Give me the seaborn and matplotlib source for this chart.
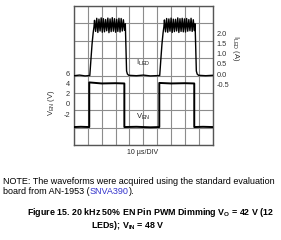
import matplotlib
matplotlib.use("Agg")
import matplotlib.pyplot as plt
import seaborn as sns
import pandas as pd

# ---------------- data ----------------
# V_EN trace: time (us) and level (V, as drawn against the left scale)
ven_time = [0, 5, 11.0, 11.0, 20, 30, 36.3, 36.3, 45, 55, 61.5, 61.5, 70, 80, 86.7, 86.7, 93, 100]
ven_volt = [-4.5, -4.45, -4.5, 4.2, 4.0, 4.05, 4.0, -4.5, -4.45, -4.55, -4.5, 4.1, 4.0, 4.05, 4.0, -4.5, -4.45, -4.5]

# I_LED trace: time (us) and current (A, against the right scale)
iled_time = [0, 4, 8, 11.4, 12.2, 13.0, 13.8, 14.4,
             14.8, 15.6, 16.4, 17.2, 18.0, 18.8, 19.6, 20.4, 21.2, 22.0, 22.8, 23.6,
             24.4, 25.2, 26.0, 26.8, 27.6, 28.4, 29.2, 30.0, 30.8, 31.6, 32.4, 33.2,
             34.0, 34.8, 35.6, 36.4, 37.0, 37.9, 38.5, 39.5,
             45, 50, 55, 61.8, 62.6, 63.4, 64.2, 64.8,
             65.2, 66.0, 66.8, 67.6, 68.4, 69.2, 70.0, 70.8, 71.6, 72.4, 73.2, 74.0,
             74.8, 75.6, 76.4, 77.2, 78.0, 78.8, 79.6, 80.4, 81.2, 82.0, 82.8, 83.6,
             84.4, 85.2, 86.0, 86.8, 87.3, 88.2, 88.8, 89.8, 95, 100]
iled_amp = [-0.08, -0.05, -0.09, -0.07, 0.7, 1.45, 2.0, 2.3,
            2.62, 2.08, 2.72, 2.03, 2.68, 2.10, 2.74, 2.04, 2.70, 2.06, 2.66, 2.11,
            2.73, 2.02, 2.69, 2.07, 2.75, 2.09, 2.70, 2.04, 2.67, 2.08, 2.72, 2.05,
            2.71, 2.10, 2.65, 2.13, 2.45, 0.15, 0.0, -0.06,
            -0.08, -0.05, -0.09, -0.07, 0.7, 1.45, 2.0, 2.3,
            2.64, 2.06, 2.71, 2.04, 2.69, 2.09, 2.73, 2.03, 2.68, 2.07, 2.67, 2.10,
            2.74, 2.03, 2.70, 2.08, 2.72, 2.06, 2.69, 2.05, 2.71, 2.09, 2.66, 2.11,
            2.72, 2.08, 2.65, 2.12, 2.45, 0.15, 0.0, -0.06, -0.08, -0.06]

ven_ticks = [6, 4, 2, 0, -2]
iled_ticks = [2.0, 1.5, 1.0, 0.5, 0.0, -0.5]

# ---------------- style ----------------
sns.set_style("white")
plt.rcParams['font.family'] = ['Liberation Sans', 'DejaVu Sans']
plt.rcParams['mathtext.fontset'] = 'custom'
plt.rcParams['mathtext.rm'] = 'Liberation Sans'
plt.rcParams['mathtext.bf'] = 'Liberation Sans:bold'

W, H = 281, 240
fig = plt.figure(figsize=(W / 100, H / 100), dpi=100)
rect = [74 / W, 1 - 145 / H, (212.7 - 74) / W, 139 / H]

# grid axes (10 x 8 divisions)
ax = fig.add_axes(rect)
ax.set_xlim(0, 100)
ax.set_ylim(0, 8)
ax.set_xticks(range(0, 101, 10))
ax.set_yticks(range(0, 9))
ax.grid(True, color="#8c8c8c", linewidth=0.8)
ax.tick_params(length=0, labelleft=False, labelbottom=False)
for s in ax.spines.values():
    s.set_color("#555555")
    s.set_linewidth(1.0)

# V_EN axis (left)
axv = fig.add_axes(rect, sharex=ax)
axv.patch.set_visible(False)
for s in axv.spines.values():
    s.set_visible(False)
sns.lineplot(x=ven_time, y=ven_volt, ax=axv, color="black", linewidth=1.4, sort=False, estimator=None)
axv.set_ylim(-8, 19.1)
axv.set_yticks(ven_ticks)
axv.set_yticklabels([str(v) for v in ven_ticks])
axv.tick_params(axis="y", length=0, pad=3, labelsize=5.3, colors="#333333")
axv.tick_params(axis="x", length=0, labelbottom=False)
axv.set_xlabel("")
axv.set_ylabel("")

# I_LED axis (right)
axi = axv.twinx()
for s in axi.spines.values():
    s.set_visible(False)
sns.lineplot(x=iled_time, y=iled_amp, ax=axi, color="black", linewidth=1.0, sort=False, estimator=None)
axi.set_ylim(-3.46, 3.32)
axi.set_yticks(iled_ticks)
axi.set_yticklabels([f"{v:.1f}" for v in iled_ticks])
axi.tick_params(axis="y", length=0, pad=3, labelsize=5.3, colors="#333333")
axi.set_ylabel("")
axv.set_xlim(0, 100)

# labels
fig.text(52 / W, 1 - 103 / H, r"V$_{\mathregular{EN}}$ (V)", rotation=90, ha="center", va="center",
         fontsize=5.5, color="#333333")
fig.text(236 / W, 1 - 48 / H, r"I$_{\mathregular{LED}}$ (A)", rotation=-90, ha="center", va="center",
         fontsize=5.5, color="#333333")
fig.text(143 / W, 1 - 63 / H, r"I$_{\mathregular{LED}}$", ha="center", va="center", fontsize=5.5, color="#222222")
fig.text(143 / W, 1 - 117 / H, r"V$_{\mathregular{EN}}$", ha="center", va="center", fontsize=5.5, color="#222222")
fig.text(143 / W, 1 - 152 / H, "10 µs/DIV", ha="center", va="center", fontsize=5, color="#222222")

# note text
fs_note = 6.45
fig.text(3 / W, 1 - 182 / H, "NOTE: The waveforms were acquired using the standard evaluation",
         ha="left", va="center", fontsize=fs_note, color="black")
fig.canvas.draw()
r = fig.canvas.get_renderer()
t1 = fig.text(3 / W, 1 - 192 / H, "board from AN-1953 (", ha="left", va="center", fontsize=fs_note, color="black")
x1 = t1.get_window_extent(r).x1 / W
t2 = fig.text(x1, 1 - 192 / H, "SNVA390", ha="left", va="center", fontsize=fs_note, color="#3333cc")
x2 = t2.get_window_extent(r).x1 / W
fig.text(x2, 1 - 192 / H, ").", ha="left", va="center", fontsize=fs_note, color="black")

# caption
fs_cap = 6.4
fig.text(27 / W, 1 - 212.5 / H, r"Figure 15. 20 kHz 50% EN Pin PWM Dimming V$_{\mathbf{O}}$ = 42 V (12",
         ha="left", va="center", fontsize=fs_cap, fontweight="bold", color="black")
fig.text(91 / W, 1 - 225 / H, r"LEDs); V$_{\mathbf{IN}}$ = 48 V",
         ha="left", va="center", fontsize=fs_cap, fontweight="bold", color="black")

fig.savefig("out.png", dpi=100)
